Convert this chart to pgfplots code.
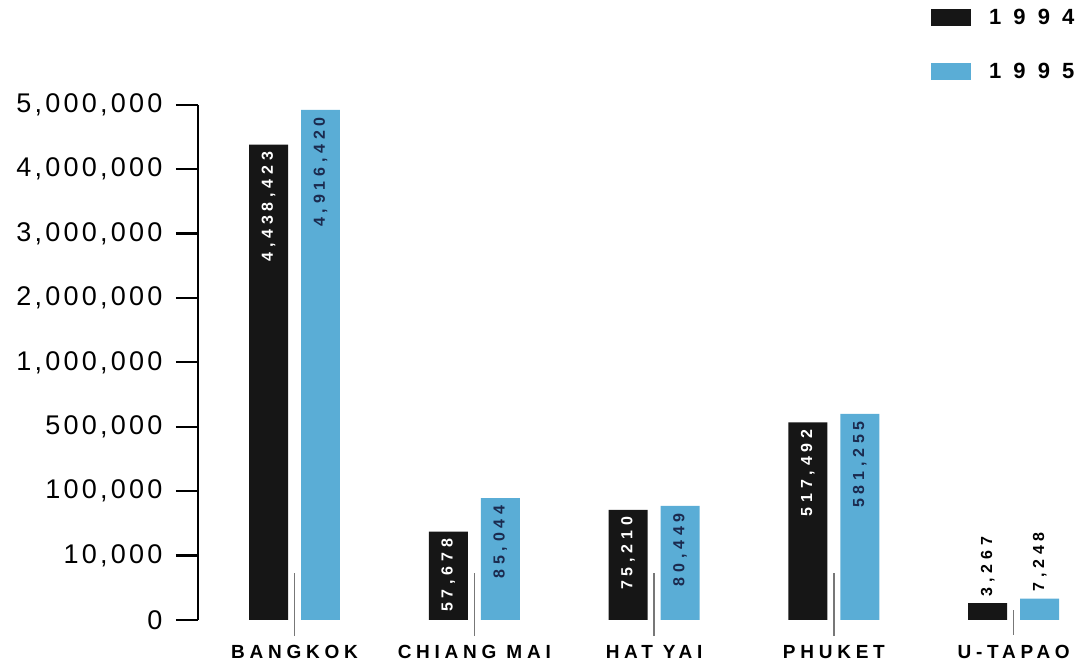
\documentclass[border=0pt]{standalone}
\usepackage{fontspec}
\setmainfont{Liberation Sans}
\usepackage{pgfplots}
\pgfplotsset{compat=1.18}
\usepackage{pgfplotstable}
\newfontfamily\tickfam[LetterSpace=12]{Liberation Sans}
\newfontfamily\catfam[LetterSpace=25]{Liberation Sans Bold}
\newfontfamily\legfam[LetterSpace=55]{Liberation Sans Bold}
\newfontfamily\barfam[LetterSpace=30]{Liberation Sans Bold}
\definecolor{barblack}{HTML}{161616}
\definecolor{barblue}{HTML}{5AADD6}
\definecolor{navy}{HTML}{1B2A4E}
\definecolor{sepgray}{HTML}{777777}

% h = drawn bar height in tick steps of the (non-linear) value axis
\pgfplotstableread{
x h value
0 7.38 4438423
1 1.37 57678
2 1.71 75210
3 3.07 517492
4 0.26 3267
}\yearA
\pgfplotstableread{
x h value
0 7.92 4916420
1 1.89 85044
2 1.77 80449
3 3.20 581255
4 0.33 7248
}\yearB

\begin{document}
\begin{tikzpicture}
\begin{axis}[
  x=179.8pt, y=64.4pt,
  xmin=-0.537, xmax=4.35, ymin=0, ymax=8,
  axis lines=left, axis line style={-},
  x axis line style={draw=none},
  y axis line style={line width=2.2pt, black},
  ytick={0,...,8},
  yticklabels={0,{10,000},{100,000},{500,000},{1,000,000},{2,000,000},{3,000,000},{4,000,000},{5,000,000}},
  xtick={0,...,4},
  xticklabels={BANGKOK,CHIANG MAI,HAT YAI,PHUKET,U-TAPAO},
  tick align=outside,
  major tick length=22pt,
  ytick style={line width=2.2pt, black},
  xtick style={draw=none},
  yticklabel style={font=\fontsize{27}{27}\tickfam, xshift=-10pt},
  xticklabel style={font=\fontsize{19}{19}\catfam},
  ybar, bar width=39pt,
  clip=false,
  legend image code/.code={\fill[#1] (0pt,-8.5pt) rectangle (40pt,8.5pt);},
  legend style={draw=none, fill=none, inner sep=0pt, row sep=37pt, column sep=18pt,
    font=\fontsize{22}{22}\legfam, nodes={inner sep=0pt},
    at={(axis cs:3.540,9.488)}, anchor=north west},
  legend cell align=left,
]
\addplot[fill=barblack, draw=none, bar shift=-26pt,
  point meta=explicit,
  visualization depends on={\coordindex\as\idx},
  nodes near coords={\ifdim\idx pt>3.5pt\color{black}\fi\pgfmathprintnumber[fixed,precision=0,1000 sep={,},assume math mode=true]{\pgfplotspointmeta}},
  every node near coord/.append style={rotate=90, anchor=\ifdim\idx pt>3.5pt west\else east\fi, text=white, inner sep=7pt, font=\fontsize{16}{16}\barfam}]
  table[x=x, y=h, meta=value]{\yearA};
\addlegendentry{1994}
\addplot[fill=barblue, draw=none, bar shift=26pt,
  point meta=explicit,
  visualization depends on={\coordindex\as\idx},
  nodes near coords={\ifdim\idx pt>3.5pt\color{black}\fi\pgfmathprintnumber[fixed,precision=0,1000 sep={,},assume math mode=true]{\pgfplotspointmeta}},
  every node near coord/.append style={rotate=90, anchor=\ifdim\idx pt>3.5pt west\else east\fi, text=navy, inner sep=7pt, font=\fontsize{16}{16}\barfam}]
  table[x=x, y=h, meta=value]{\yearB};
\addlegendentry{1995}
\draw[sepgray, line width=1.3pt] (axis cs:0,-0.25) -- (axis cs:0,0.73);
\draw[sepgray, line width=1.3pt] (axis cs:1,-0.25) -- (axis cs:1,0.73);
\draw[sepgray, line width=1.3pt] (axis cs:2,-0.25) -- (axis cs:2,0.73);
\draw[sepgray, line width=1.3pt] (axis cs:3,-0.25) -- (axis cs:3,0.73);
\draw[sepgray, line width=1.3pt] (axis cs:4,-0.23) -- (axis cs:4,0.155);
\coordinate (bbl) at (axis cs:-1.638,-0.699);
\coordinate (btr) at (axis cs:4.380,9.627);
\end{axis}
\pgfresetboundingbox
\path[use as bounding box] (bbl) rectangle (btr);
\end{tikzpicture}
\end{document}
